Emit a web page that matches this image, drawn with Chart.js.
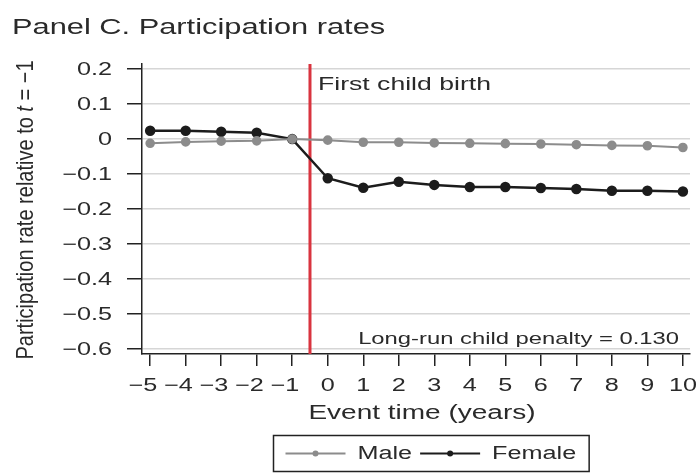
<!DOCTYPE html>
<html>
<head>
<meta charset="utf-8">
<title>Panel C. Participation rates</title>
<script src="https://cdn.jsdelivr.net/npm/chart.js@4.4.1/dist/chart.umd.min.js"></script>
<style>
    html, body { margin: 0; padding: 0; background: #fff; }
    .chart-wrap { position: relative; width: 698px; height: 475px; }
</style>
</head>
<body>
<div class="chart-wrap">
    <canvas id="chart1" width="698" height="475"></canvas>
</div>
<script>
// data
var event_time = [-5, -4, -3, -2, -1, 0, 1, 2, 3, 4, 5, 6, 7, 8, 9, 10];
var male_rate = [-0.012, -0.008, -0.006, -0.005, 0, -0.003, -0.009, -0.009, -0.011, -0.012, -0.013, -0.014, -0.016, -0.018, -0.019, -0.024];
var female_rate = [0.024, 0.024, 0.021, 0.018, 0, -0.112, -0.139, -0.122, -0.131, -0.137, -0.137, -0.14, -0.143, -0.148, -0.148, -0.15];
var y_ticks = [0.2, 0.1, 0, -0.1, -0.2, -0.3, -0.4, -0.5, -0.6];
var birth_line_at = -0.5;
var birth_label = 'First child birth';
var penalty_label = 'Long-run child penalty = 0.130';

var font_name = '"Liberation Sans", Arial, Helvetica, sans-serif';
var text_color = '#2a2a2a';
var stretch = 1.4; // the original figure's text is wide

function toPoints(values) {
    return event_time.map((t, i) => ({ x: t, y: values[i] }));
}

function minusLabel(v) {
    if (Math.abs(v) < 1e-9) return '0';
    var s = Math.abs(v).toString();
    return v < 0 ? '\u2212' + s : s;
}

function wideText(ctx, text, x, y, align) {
    ctx.save();
    ctx.translate(x, y);
    ctx.scale(stretch, 1);
    ctx.textAlign = align;
    ctx.fillText(text, 0, 0);
    ctx.restore();
}

function wideWidth(ctx, text) {
    return ctx.measureText(text).width * stretch;
}

// red vertical line + the two notes in the plot
var birthLine = {
    id: 'birthLine',
    beforeDatasetsDraw(chart) {
        var ctx = chart.ctx;
        var area = chart.chartArea;
        var x = chart.scales.x.getPixelForValue(birth_line_at);
        ctx.save();
        ctx.strokeStyle = '#d9343f';
        ctx.lineWidth = 3;
        ctx.beginPath();
        ctx.moveTo(x, area.top);
        ctx.lineTo(x, area.bottom);
        ctx.stroke();

        ctx.fillStyle = text_color;
        ctx.textBaseline = 'middle';
        ctx.font = '19px ' + font_name;
        wideText(ctx, birth_label, x + 8, area.top + 21, 'left');

        ctx.font = '17px ' + font_name;
        wideText(ctx, penalty_label, area.right - 11, area.bottom - 15, 'right');
        ctx.restore();
    }
};

// tick labels (wide, like the original), panel title, axis titles, boxed legend
var extraText = {
    id: 'extraText',
    afterDraw(chart) {
        var ctx = chart.ctx;
        var area = chart.chartArea;
        var xs = chart.scales.x;
        var ys = chart.scales.y;
        ctx.save();
        ctx.fillStyle = text_color;
        ctx.textBaseline = 'middle';

        ctx.font = '18px ' + font_name;
        xs.ticks.forEach(t => {
            var lab = minusLabel(t.value);
            var digits = lab.replace('\u2212', '');
            var px = xs.getPixelForValue(t.value) + wideWidth(ctx, digits) / 2;
            wideText(ctx, lab, px, 386, 'right');
        });
        ys.ticks.forEach(t => {
            var lab = minusLabel(Math.round(t.value * 10) / 10);
            wideText(ctx, lab, 112, ys.getPixelForValue(t.value) + 1, 'right');
        });

        ctx.font = '22px ' + font_name;
        wideText(ctx, 'Panel C. Participation rates', 12, 28, 'left');

        ctx.font = '20px ' + font_name;
        wideText(ctx, 'Event time (years)', (area.left + area.right) / 2 + 6, 413, 'center');

        // y axis title, rotated, italic t
        var parts = [
            ['Participation rate relative to ', '20px ' + font_name],
            ['t', 'italic 20px ' + font_name],
            [' = \u22121', '20px ' + font_name]
        ];
        var total = 0;
        parts.forEach(p => { ctx.font = p[1]; total += ctx.measureText(p[0]).width; });
        ctx.save();
        ctx.translate(26, (area.top + area.bottom) / 2 + 1);
        ctx.rotate(-Math.PI / 2);
        ctx.scale(1, stretch * 0.85);
        var px = -total / 2;
        parts.forEach(p => {
            ctx.font = p[1];
            ctx.textAlign = 'left';
            ctx.fillText(p[0], px, 0);
            px += ctx.measureText(p[0]).width;
        });
        ctx.restore();

        // legend
        ctx.font = '18px ' + font_name;
        var sets = chart.data.datasets;
        var line_len = 60, gap1 = 12, gap2 = 8, pad_l = 12, pad_r = 13;
        var w = pad_l + pad_r;
        sets.forEach((ds, i) => {
            w += line_len + gap1 + wideWidth(ctx, ds.label);
            if (i < sets.length - 1) w += gap2;
        });
        var cx = (area.left + area.right) / 2 + 15;
        var bx = Math.round(cx - w / 2) + 0.5;
        var by = 435.5;
        var bh = 36;
        ctx.strokeStyle = '#222';
        ctx.lineWidth = 1.5;
        ctx.strokeRect(bx, by, w, bh);
        var lx = bx + pad_l;
        var ly = by + bh / 2;
        sets.forEach(ds => {
            ctx.strokeStyle = ds.borderColor;
            ctx.lineWidth = 2;
            ctx.beginPath();
            ctx.moveTo(lx, ly);
            ctx.lineTo(lx + line_len, ly);
            ctx.stroke();
            ctx.fillStyle = ds.pointBackgroundColor;
            ctx.beginPath();
            ctx.arc(lx + line_len / 2, ly, 3, 0, Math.PI * 2);
            ctx.fill();
            lx += line_len + gap1;
            ctx.fillStyle = text_color;
            wideText(ctx, ds.label, lx, ly + 1, 'left');
            lx += wideWidth(ctx, ds.label) + gap2;
        });
        ctx.restore();
    }
};

var my_ctx = document.getElementById('chart1');
var myChart1 = new Chart(my_ctx, {
    type: 'line',
    data: {
        datasets: [{
            label: 'Male',
            data: toPoints(male_rate),
            borderColor: '#8c8c8c',
            backgroundColor: '#8c8c8c',
            pointBackgroundColor: '#8c8c8c',
            pointBorderColor: '#8c8c8c',
            borderWidth: 2,
            pointRadius: 3.8,
            tension: 0
        }, {
            label: 'Female',
            data: toPoints(female_rate),
            borderColor: '#1c1c1c',
            backgroundColor: '#1c1c1c',
            pointBackgroundColor: '#1c1c1c',
            pointBorderColor: '#1c1c1c',
            borderWidth: 2.5,
            pointRadius: 4,
            tension: 0
        }]
    },
    options: {
        responsive: false,
        animation: false,
        layout: { padding: { top: 64, right: 8, bottom: 0, left: 0 } },
        plugins: {
            legend: { display: false },
            tooltip: { enabled: false }
        },
        scales: {
            x: {
                type: 'linear',
                min: -5.23,
                max: 10.2,
                afterBuildTicks: (scale) => {
                    scale.ticks = event_time.map(v => ({ value: v }));
                },
                afterFit: (scale) => { scale.height = 121; },
                grid: {
                    color: 'rgba(0,0,0,0)',
                    tickColor: '#222',
                    tickLength: 12,
                    lineWidth: 1.5
                },
                border: { color: '#222', width: 1.5 },
                ticks: { display: false }
            },
            y: {
                min: -0.615,
                max: 0.215,
                afterBuildTicks: (scale) => {
                    scale.ticks = y_ticks.map(v => ({ value: v }));
                },
                afterFit: (scale) => { scale.width = 142; },
                grid: {
                    color: '#d6d6d6',
                    tickColor: '#222',
                    tickLength: 15,
                    lineWidth: 1.5
                },
                border: { color: '#222', width: 1.5 },
                ticks: { display: false }
            }
        }
    },
    plugins: [birthLine, extraText]
});
</script>
</body>
</html>
